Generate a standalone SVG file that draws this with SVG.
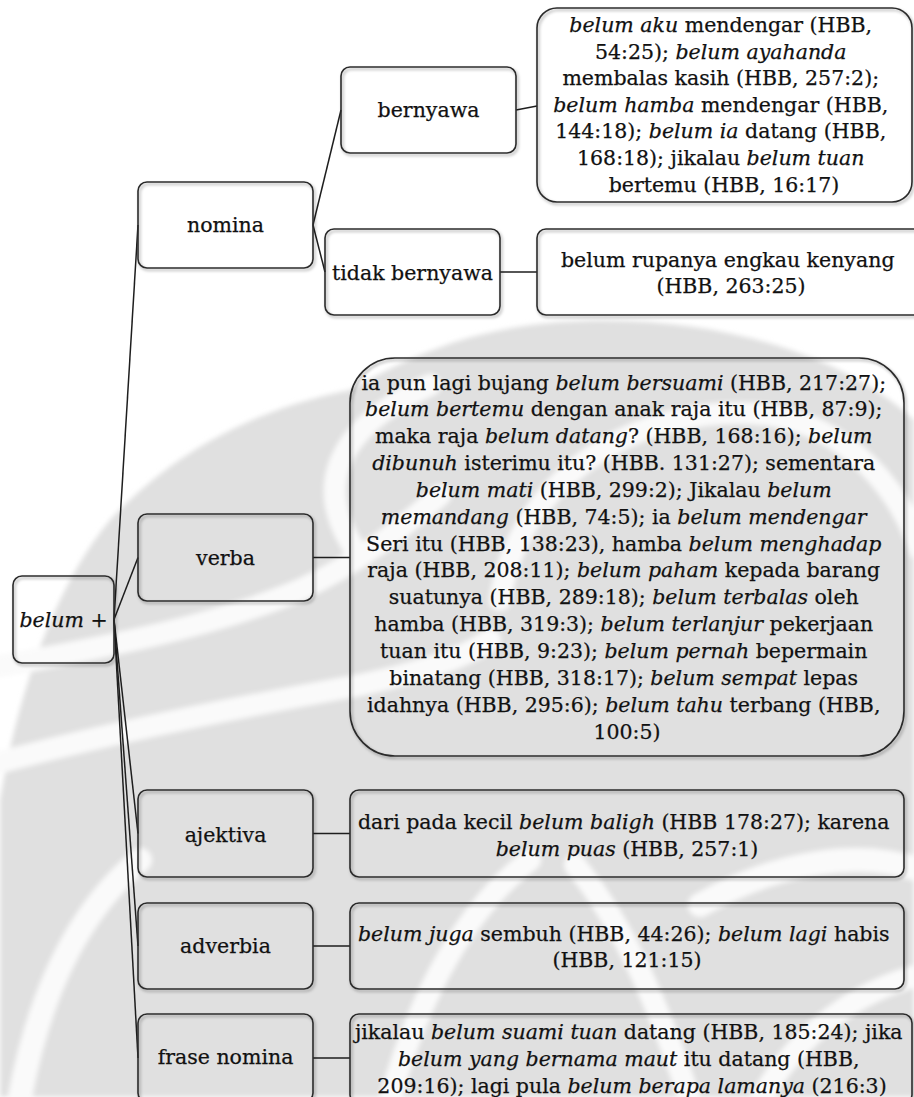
<svg xmlns="http://www.w3.org/2000/svg" width="914" height="1097" viewBox="0 0 914 1097">
  <defs>
    <filter id="soft" x="-5%" y="-5%" width="112%" height="115%">
      <feDropShadow dx="1.5" dy="2" stdDeviation="1.8" flood-color="#000" flood-opacity="0.35"/>
    </filter>
    <filter id="blurwm" x="-5%" y="-5%" width="110%" height="110%">
      <feGaussianBlur stdDeviation="2.5"/>
    </filter>
  </defs>
  <style>
    .box { fill: none; stroke: #2b2b2b; stroke-width: 1.6; filter: url(#soft); }
    .lbl { font-family: "DejaVu Serif", "Liberation Serif", serif; font-size: 20.5px; fill: #111111; stroke: #111111; stroke-width: 0.25; text-anchor: middle; }
    .i { font-style: italic; }
    .conn line { stroke: #1e1e1e; stroke-width: 1.5; }
    .wm-band { fill: none; stroke: #fafafa; stroke-linecap: round; }
  </style>

  <rect width="914" height="1097" fill="#ffffff"/>

  <!-- faint emblem in the background -->
  <g id="watermark" filter="url(#blurwm)">
    <path d="M 0,800 C 20,680 60,580 110,520 C 170,455 250,410 350,390 C 420,350 480,328 560,322 C 700,312 840,350 914,420 L 914,1097 L 0,1097 Z" fill="#e0e0e0"/>
    <path class="wm-band" stroke-width="22" d="M 352,545 C 318,490 330,430 430,385"/>
    <path class="wm-band" stroke-width="22" d="M -10,668 C 90,650 210,628 300,590 C 360,562 400,530 440,495"/>
    <path class="wm-band" stroke-width="22" d="M -10,765 C 100,735 250,705 360,685 C 420,672 460,660 490,640"/>
    <path class="wm-band" stroke-width="22" d="M 500,600 C 520,470 650,400 770,415 C 850,428 900,490 920,550"/>
    <path class="wm-band" stroke-width="24" d="M 20,1097 C 40,990 80,910 140,860"/>
    <path class="wm-band" stroke-width="22" d="M 390,1100 C 420,990 470,905 530,860"/>
    <path class="wm-band" stroke-width="22" d="M 575,865 C 625,925 660,1010 690,1100"/>
    <path class="wm-band" stroke-width="24" d="M 700,905 C 780,860 860,850 920,870"/>
    <path class="wm-band" stroke-width="22" d="M 760,1100 C 800,1030 860,990 920,975"/>
  </g>

  <!-- connectors -->
  <g id="connectors" class="conn">
    <line x1="114" y1="619.5" x2="138" y2="225"/>
    <line x1="114" y1="619.5" x2="138" y2="557.5"/>
    <line x1="114" y1="619.5" x2="138" y2="833.5"/>
    <line x1="114" y1="619.5" x2="138" y2="946"/>
    <line x1="114" y1="619.5" x2="138" y2="1058"/>
    <line x1="313" y1="225" x2="341" y2="110"/>
    <line x1="313" y1="225" x2="325" y2="272"/>
    <line x1="516" y1="110" x2="537" y2="106"/>
    <line x1="500" y1="272" x2="537" y2="272"/>
    <line x1="313" y1="557.5" x2="350" y2="557.5"/>
    <line x1="313" y1="833.5" x2="350" y2="833.5"/>
    <line x1="313" y1="946" x2="350" y2="946"/>
    <line x1="313" y1="1058" x2="350" y2="1058"/>
  </g>

  <g id="node-belum">
    <rect class="box" x="13" y="576" width="101" height="87" rx="9"/>
    <text class="lbl" x="63.5" y="627"><tspan class="i">belum</tspan> +</text>
  </g>

  <g id="node-nomina">
    <rect class="box" x="138" y="182" width="175" height="86" rx="9"/>
    <text class="lbl" x="225.5" y="232">nomina</text>
  </g>

  <g id="node-bernyawa">
    <rect class="box" x="341" y="67" width="175" height="86" rx="9"/>
    <text class="lbl" x="428.5" y="117">bernyawa</text>
  </g>

  <g id="node-tidak-bernyawa">
    <rect class="box" x="325" y="229" width="175" height="86" rx="9"/>
    <text class="lbl" x="412.5" y="280">tidak bernyawa</text>
  </g>

  <g id="node-bernyawa-contoh">
    <rect class="box" x="537" y="8" width="375" height="194" rx="20"/>
    <text class="lbl">
      <tspan x="724" y="32"><tspan class="i">belum aku</tspan> mendengar (HBB,</tspan>
      <tspan x="724" y="58.6">54:25); <tspan class="i">belum ayahanda</tspan></tspan>
      <tspan x="724" y="85.2">membalas kasih (HBB, 257:2);</tspan>
      <tspan x="724" y="111.8"><tspan class="i">belum hamba</tspan> mendengar (HBB,</tspan>
      <tspan x="724" y="138.4">144:18); <tspan class="i">belum ia</tspan> datang (HBB,</tspan>
      <tspan x="724" y="165">168:18); jikalau <tspan class="i">belum tuan</tspan></tspan>
      <tspan x="724" y="191.6">bertemu (HBB, 16:17)</tspan>
    </text>
  </g>

  <g id="node-tidak-bernyawa-contoh">
    <rect class="box" x="537" y="229" width="393" height="86" rx="9"/>
    <text class="lbl">
      <tspan x="731" y="266.5">belum rupanya engkau kenyang</tspan>
      <tspan x="731" y="292.5">(HBB, 263:25)</tspan>
    </text>
  </g>

  <g id="node-verba">
    <rect class="box" x="138" y="514" width="175" height="87" rx="9"/>
    <text class="lbl" x="225.5" y="565">verba</text>
  </g>

  <g id="node-verba-contoh">
    <rect class="box" x="350" y="358" width="554" height="398" rx="45"/>
    <text class="lbl">
      <tspan x="627" y="389.5">ia pun lagi bujang <tspan class="i">belum bersuami</tspan> (HBB, 217:27);</tspan>
      <tspan x="627" y="416.35"><tspan class="i">belum bertemu</tspan> dengan anak raja itu (HBB, 87:9);</tspan>
      <tspan x="627" y="443.2">maka raja <tspan class="i">belum datang</tspan>? (HBB, 168:16); <tspan class="i">belum</tspan></tspan>
      <tspan x="627" y="470.05"><tspan class="i">dibunuh</tspan> isterimu itu? (HBB. 131:27); sementara</tspan>
      <tspan x="627" y="496.9"><tspan class="i">belum mati</tspan> (HBB, 299:2); Jikalau <tspan class="i">belum</tspan></tspan>
      <tspan x="627" y="523.75"><tspan class="i">memandang</tspan>  (HBB, 74:5); ia <tspan class="i">belum mendengar</tspan></tspan>
      <tspan x="627" y="550.6">Seri itu (HBB, 138:23), hamba <tspan class="i">belum menghadap</tspan></tspan>
      <tspan x="627" y="577.45">raja (HBB, 208:11); <tspan class="i">belum paham</tspan> kepada barang</tspan>
      <tspan x="627" y="604.3">suatunya (HBB, 289:18); <tspan class="i">belum terbalas</tspan> oleh</tspan>
      <tspan x="627" y="631.15">hamba (HBB, 319:3); <tspan class="i">belum terlanjur</tspan> pekerjaan</tspan>
      <tspan x="627" y="658">tuan itu (HBB, 9:23); <tspan class="i">belum pernah</tspan> bepermain</tspan>
      <tspan x="627" y="684.85">binatang (HBB, 318:17); <tspan class="i">belum sempat</tspan> lepas</tspan>
      <tspan x="627" y="711.7">idahnya (HBB, 295:6); <tspan class="i">belum tahu</tspan> terbang (HBB,</tspan>
      <tspan x="627" y="738.55">100:5)</tspan>
    </text>
  </g>

  <g id="node-ajektiva">
    <rect class="box" x="138" y="790" width="175" height="87" rx="9"/>
    <text class="lbl" x="225.5" y="842">ajektiva</text>
  </g>

  <g id="node-ajektiva-contoh">
    <rect class="box" x="350" y="790" width="554" height="87" rx="9"/>
    <text class="lbl">
      <tspan x="627" y="828.5">dari pada kecil <tspan class="i">belum baligh</tspan> (HBB 178:27); karena</tspan>
      <tspan x="627" y="855.5"><tspan class="i">belum puas</tspan> (HBB, 257:1)</tspan>
    </text>
  </g>

  <g id="node-adverbia">
    <rect class="box" x="138" y="903" width="175" height="86" rx="9"/>
    <text class="lbl" x="225.5" y="953">adverbia</text>
  </g>

  <g id="node-adverbia-contoh">
    <rect class="box" x="350" y="903" width="554" height="86" rx="9"/>
    <text class="lbl">
      <tspan x="627" y="940.5"><tspan class="i">belum juga</tspan> sembuh (HBB, 44:26); <tspan class="i">belum lagi</tspan> habis</tspan>
      <tspan x="627" y="967">(HBB, 121:15)</tspan>
    </text>
  </g>

  <g id="node-frase-nomina">
    <rect class="box" x="138" y="1014" width="175" height="88" rx="9"/>
    <text class="lbl" x="225.5" y="1063.5">frase nomina</text>
  </g>

  <g id="node-frase-nomina-contoh">
    <rect class="box" x="350" y="1014" width="562" height="90" rx="9"/>
    <text class="lbl">
      <tspan x="632" y="1038.5">jikalau <tspan class="i">belum suami tuan</tspan> datang (HBB, 185:24); jika</tspan>
      <tspan x="632" y="1065.5"><tspan class="i">belum yang bernama maut</tspan> itu datang (HBB,</tspan>
      <tspan x="632" y="1092.5">209:16); lagi pula <tspan class="i">belum berapa lamanya</tspan> (216:3)</tspan>
    </text>
  </g>
</svg>
